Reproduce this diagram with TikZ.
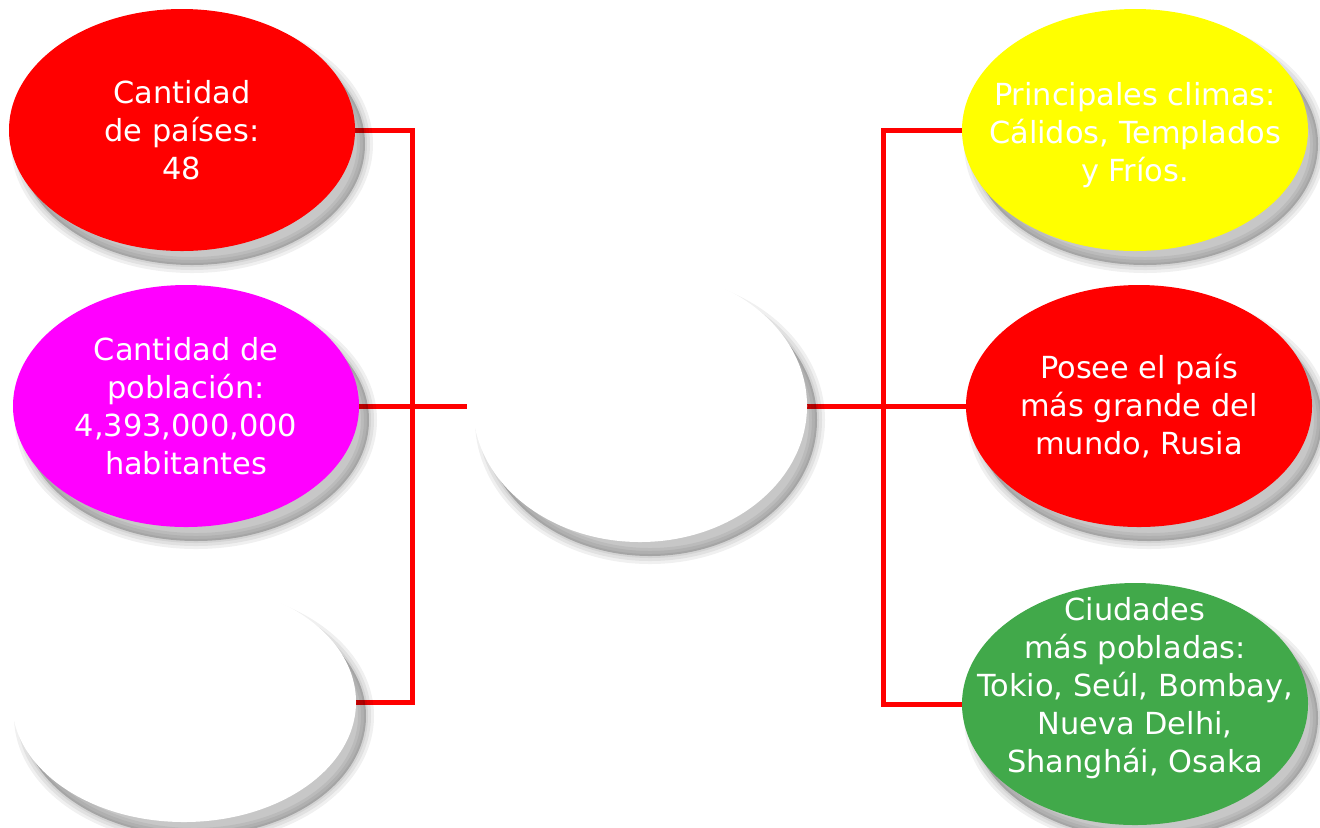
\documentclass[tikz,border=0pt]{standalone}
\usepackage{fontspec}
\setmainfont{DejaVu Sans}
\usetikzlibrary{shapes.geometric,backgrounds}
\definecolor{cred}{HTML}{FF0000}
\definecolor{cmag}{HTML}{FF00FF}
\definecolor{cyel}{HTML}{FFFF00}
\definecolor{cgrn}{HTML}{41A94A}
\tikzset{
  shadeoff/.style={transform canvas={xshift=5pt,yshift=-7pt}},
  softshadow/.style={
    preaction={fill=black, fill opacity=0.22, draw=black, draw opacity=0.06, line width=8pt, shadeoff},
    preaction={draw=black, draw opacity=0.06, line width=5pt, shadeoff},
    preaction={draw=black, draw opacity=0.06, line width=2pt, shadeoff}},
  bubble/.style={ellipse, inner sep=0pt, draw=none,
    minimum width=173pt, minimum height=121pt,
    text=white, align=center,
    font=\fontsize{15.2pt}{19pt}\selectfont, softshadow},
  txt/.style={text=white, align=center, inner sep=0pt,
    font=\fontsize{15.2pt}{19pt}\selectfont},
  link/.style={draw=cred, line width=2.5pt}
}
\begin{document}
\begin{tikzpicture}[x=0.5pt,y=-0.5pt]
\useasboundingbox (0,0) rectangle (1320,827);
% left
\node[bubble, fill=cred] (paises) at (182,130) {Cantidad\\de países:\\48};
\node[bubble, fill=cmag] (pobl) at (186,406) {Cantidad de\\población:\\4,393,000,000\\habitantes};
\node[bubble, fill=white, minimum width=172pt, minimum height=120pt] (blank) at (184,702) {};
% center
\node[bubble, fill=white, minimum width=167pt, minimum height=136pt] (centro) at (640,406) {};
% right
\node[bubble, fill=cyel] (climas) at (1135,130) {};
\node[txt] (climast) at (1135,135) {Principales climas:\\Cálidos, Templados\\y Fríos.};
\node[bubble, fill=cred] (rusia) at (1139,406) {Posee el país\\más grande del\\mundo, Rusia};
\node[bubble, fill=cgrn] (ciud) at (1135,704) {};
\node[txt] (ciudt) at (1135,688) {Ciudades\\más pobladas:\\Tokio, Seúl, Bombay,\\Nueva Delhi,\\Shanghái, Osaka};
% junctions
\coordinate (lj) at (412,406);
\coordinate (lend) at (467,406);
\coordinate (rj) at (883,406);
\begin{scope}[on background layer]
\fill[white] (0,0) rectangle (1320,827);
\draw[link] (paises.east) -| (lj) |- (blank.east);
\draw[link] (pobl.east) -- (lend);
\draw[link] (centro.east) -- (rusia.west);
\draw[link] (climas.west) -| (rj) |- (ciud.west);
\end{scope}
\end{tikzpicture}
\end{document}
